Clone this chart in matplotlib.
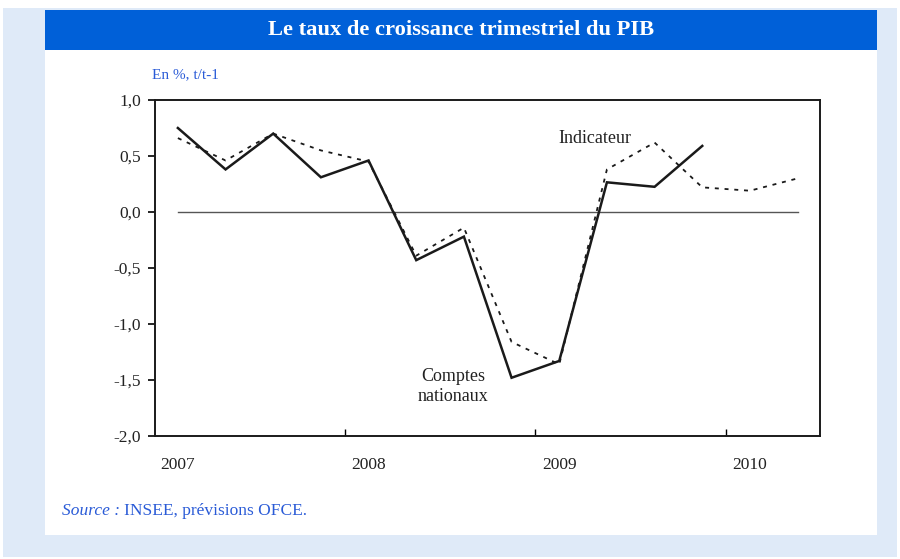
import matplotlib
matplotlib.use("Agg")
import matplotlib.pyplot as plt
from matplotlib.patches import Rectangle
import numpy as np

# ---- data ----
quarters = np.arange(14)  # 2007Q1 .. 2010Q2
comptes = [0.75, 0.38, 0.70, 0.31, 0.46, -0.43, -0.22, -1.48, -1.33, 0.265, 0.225, 0.59]
indicateur = [0.66, 0.46, 0.70, 0.55, 0.45, -0.39, -0.14, -1.16, -1.36, 0.38, 0.62, 0.22, 0.19, 0.30]
year_labels = ["2007", "2008", "2009", "2010"]
year_pos = [0, 4, 8, 12]
year_bounds = [3.5, 7.5, 11.5]
yticks = [1.0, 0.5, 0.0, -0.5, -1.0, -1.5, -2.0]
ytick_labels = ["1,0", "0,5", "0,0", "-0,5", "-1,0", "-1,5", "-2,0"]

W, H = 900, 559
fig = plt.figure(figsize=(W / 100, H / 100), dpi=100)
fig.patch.set_facecolor("white")

def fx(px):
    return px / W

def fy(py):
    return 1 - py / H

# light-blue outer frame
fig.patches.append(Rectangle((fx(3), fy(557)), fx(894), 549 / H, transform=fig.transFigure,
                             facecolor="#dfeaf8", edgecolor="none", zorder=0))
# white panel
fig.patches.append(Rectangle((fx(45), fy(535)), fx(832), 525 / H, transform=fig.transFigure,
                             facecolor="white", edgecolor="none", zorder=1))
# title band
fig.patches.append(Rectangle((fx(45), fy(50)), fx(832), 40 / H, transform=fig.transFigure,
                             facecolor="#0060d8", edgecolor="none", zorder=2))

serif = ["Liberation Serif", "DejaVu Serif"]
fig.text(fx(461), fy(30), "Le taux de croissance trimestriel du PIB", color="white",
         fontsize=16.2, fontweight="bold", family=serif, ha="center", va="center", zorder=3)
fig.text(fx(152), fy(75), "En %, t/t-1", color="#2a5bd7", fontsize=11, family=serif,
         ha="left", va="center")

ax = fig.add_axes([fx(155), fy(436), fx(665), 336 / H])
ax.set_facecolor("white")
ax.set_zorder(5)
ax.set_xlim(-0.48, 13.47)
ax.set_ylim(-2.0, 1.0)

ax.plot(quarters[[0, -1]], [0, 0], color="#555555", lw=1.0, zorder=2)
ax.plot(quarters[:len(indicateur)], indicateur, color="#1a1a1a", lw=1.3,
        linestyle=(0, (2.2, 3.2)), zorder=3)
ax.plot(quarters[:len(comptes)], comptes, color="#1a1a1a", lw=1.8, zorder=4,
        solid_joinstyle="miter")

for s in ax.spines.values():
    s.set_linewidth(1.4)
    s.set_color("#1a1a1a")

ax.set_yticks(yticks)
ax.set_yticklabels(ytick_labels, family=serif, fontsize=12.5, color="#222222")
ax.tick_params(axis="y", direction="out", length=5, width=1.2, pad=5)

ax.set_xticks(year_bounds)
ax.set_xticklabels([])
ax.tick_params(axis="x", which="major", direction="in", length=5, width=1.0)
ax.set_xticks(year_pos, minor=True)
ax.set_xticklabels(year_labels, minor=True, family=serif, fontsize=12.5, color="#222222")
ax.tick_params(axis="x", which="minor", length=0, pad=15)

ax.text(8.75, 0.66, "Indicateur", family=serif, fontsize=13, color="#222222",
        ha="center", va="center")
ax.text(5.77, -1.56, "Comptes\nnationaux", family=serif, fontsize=13, color="#222222",
        ha="center", va="center", linespacing=1.25)

fig.text(fx(62), fy(511), "Source :", color="#2a5bd7", fontsize=12.5, family=serif,
         style="italic", ha="left", va="center")
fig.text(fx(124), fy(511), "INSEE, prévisions OFCE.", color="#2a5bd7", fontsize=12.5,
         family=serif, ha="left", va="center")

fig.savefig("out.png", dpi=100, facecolor=fig.get_facecolor())
